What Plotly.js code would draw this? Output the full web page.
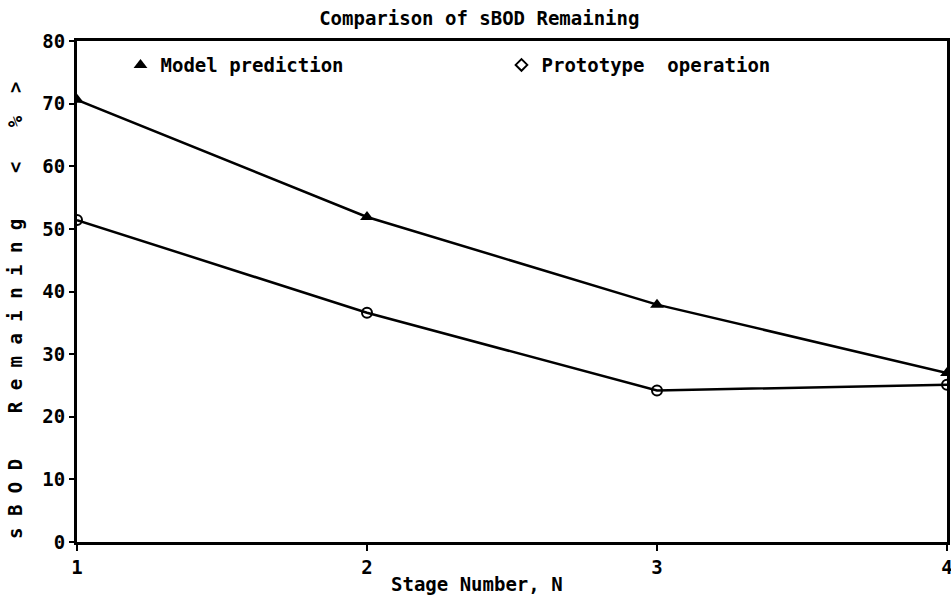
<!DOCTYPE html>
<html>
<head>
<meta charset="utf-8">
<script src="https://cdn.plot.ly/plotly-3.0.1.min.js"></script>
<style>body{margin:0;background:#fff}#chart{width:951px;height:603px}</style>
</head>
<body>
<div id="chart"></div>
<script>
const stages = [1, 2, 3, 4];
const modelPrediction = [70.6, 51.9, 37.9, 27.0];
const prototypeOperation = [51.4, 36.6, 24.2, 25.1];
const xTickVals = [1, 2, 3, 4];
const yTickVals = [0, 10, 20, 30, 40, 50, 60, 70, 80];
const yTickText = ["0", "10", "20", "30", "40", "50", "60", "70", "80"];

const FONT = "DejaVu Sans Mono, Liberation Mono, monospace";

const traces = [
  {x: stages, y: modelPrediction, mode: "lines+markers", showlegend: false,
   line: {color: "#000", width: 2.5},
   marker: {symbol: "triangle-up", size: 12, color: "#000"}},
  {x: stages, y: prototypeOperation, mode: "lines+markers", showlegend: false,
   line: {color: "#000", width: 2.5},
   marker: {symbol: "circle-open", size: 10, color: "#000", line: {width: 2, color: "#000"}}},
  {x: [null], y: [null], mode: "markers", name: "Model prediction",
   marker: {symbol: "triangle-up", size: 12, color: "#000"}},
  {x: [null], y: [null], mode: "markers", name: "Prototype  operation",
   marker: {symbol: "diamond-open", size: 9, color: "#000", line: {width: 2, color: "#000"}}}
];

const layout = {
  width: 951, height: 603,
  margin: {l: 77, r: 4, t: 41, b: 61},
  paper_bgcolor: "#fff", plot_bgcolor: "#fff",
  font: {family: FONT, size: 19, color: "#000", weight: "bold"},
  title: {text: "Comparison of sBOD Remaining", x: 0.504, xref: "container", xanchor: "center",
          y: 0.97, yref: "container", yanchor: "middle",
          font: {family: FONT, size: 19, weight: "bold", color: "#000"}},
  xaxis: {range: [1, 4], tickvals: xTickVals, ticks: "outside", ticklen: 6, tickwidth: 2,
          tickcolor: "#000", showgrid: false, zeroline: false, showline: true, linewidth: 3,
          linecolor: "#000", mirror: true, fixedrange: true, ticklabeloverflow: "allow",
          tickfont: {family: FONT, size: 19, weight: "bold"}},
  yaxis: {range: [0, 80], tickvals: yTickVals, ticktext: yTickText, ticks: "outside", ticklen: 5,
          tickwidth: 2, tickcolor: "#000", showgrid: false, zeroline: false, showline: true,
          linewidth: 3, linecolor: "#000", mirror: true, fixedrange: true,
          tickfont: {family: FONT, size: 19, weight: "bold"}},
  legend: {orientation: "h", x: 0.05, xanchor: "left", y: 0.952, yanchor: "middle",
           bgcolor: "rgba(0,0,0,0)", borderwidth: 0, entrywidth: 336, entrywidthmode: "pixels",
           font: {family: FONT, size: 19, weight: "bold"}},
  annotations: [
    {text: "Stage Number, N", xref: "paper", yref: "paper", x: (477 - 77) / 870, y: -0.083,
     xanchor: "center", yanchor: "middle", showarrow: false,
     font: {family: FONT, size: 19, weight: "bold"}},
    {text: "s B O D    R e m a i n i n g    &lt;   %  &gt;", xref: "paper", yref: "paper",
     x: (15 - 77) / 870, y: (542 - 310) / 501, xanchor: "center", yanchor: "middle",
     textangle: -90, showarrow: false,
     font: {family: FONT, size: 19, weight: "bold"}}
  ]
};

Plotly.newPlot("chart", traces, layout, {staticPlot: true, displayModeBar: false});
</script>
</body>
</html>
